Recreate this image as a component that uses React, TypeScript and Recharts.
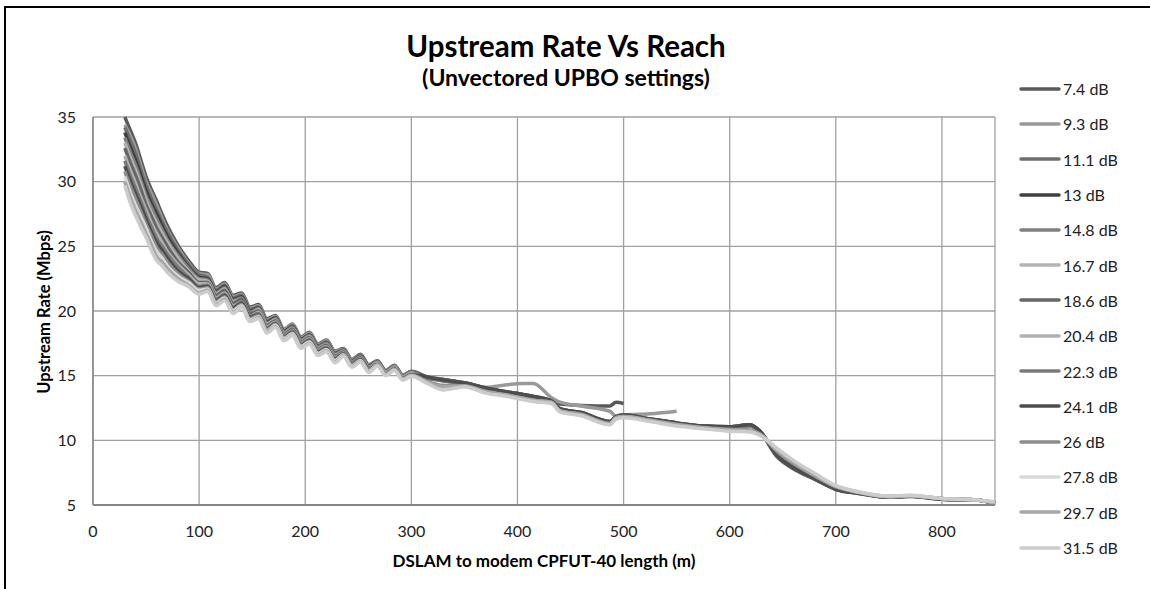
import { LineChart, Line, XAxis, YAxis, CartesianGrid, Legend } from 'recharts';

// distance from DSLAM (m)
const distance = [
  30, 35, 40, 45, 50, 55, 60, 65, 70, 80, 90, 100,
  108, 116, 124, 132, 140, 148, 156, 164, 172, 180, 188, 196, 204, 212, 220, 228, 236, 244, 252, 260, 268, 276, 284, 292, 300,
  315, 330, 350, 370, 390, 405, 415, 432, 440, 460, 487, 493, 500, 525, 550, 575, 600, 619, 628, 645, 660, 680, 700, 720, 750, 770, 800, 830, 850,
];

// upstream rate (Mbps) per UPBO setting
const rate7_4 = [
  35.0, 34.0, 33.0, 31.7, 30.4, 29.4, 28.5, 27.5, 26.6, 25.1, 23.9, 23.0,
  22.9, 21.8, 22.2, 21.2, 21.4, 20.3, 20.5, 19.4, 19.65, 18.6, 19.0, 18.0, 18.35, 17.45, 17.75, 16.9, 17.1, 16.25, 16.65, 15.85, 16.15, 15.4, 15.8, 15.05, 15.35,
  14.9, 14.7, 14.45, 14.05, 13.75, 13.55, 13.4, 13.0, 12.8, 12.7, 12.65, 12.95, 12.85,
];
const rate9_3 = [
  34.4, 33.6, 32.6, 31.3, 30.0, 29.1, 28.2, 27.2, 26.3, 24.9, 23.7, 22.9,
  22.8, 21.7, 22.1, 21.1, 21.3, 20.2, 20.4, 19.3, 19.6, 18.55, 18.95, 17.95, 18.3, 17.4, 17.7, 16.85, 17.05, 16.2, 16.6, 15.8, 16.1, 15.35, 15.75, 15.0, 15.3,
  14.55, 14.2, 14.25, 14.1, 14.3, 14.4, 14.4, 13.3, 12.95, 12.65, 12.25, 11.85, 11.95, 12.05, 12.25,
];
const rate11_1 = [
  34.2, 33.2, 32.2, 30.9, 29.7, 28.7, 27.8, 26.9, 26.1, 24.7, 23.6, 22.8,
  22.6, 21.6, 22.0, 21.0, 21.2, 20.1, 20.3, 19.2, 19.5, 18.45, 18.85, 17.85, 18.2, 17.3, 17.6, 16.75, 17.0, 16.15, 16.55, 15.75, 16.1, 15.35, 15.75, 15.0, 15.3,
  14.9, 14.7, 14.45, 14.05, 13.75, 13.55, 13.4, 13.05, 12.45, 12.15, 11.45, 11.8, 11.95, 11.65, 11.35, 11.1, 11.05, 11.2, 10.75, 8.8, 7.9, 7.05, 6.25, 5.95, 5.6, 5.7, 5.45, 5.4, 5.15,
];
const rate13 = [
  33.8, 32.7, 31.7, 30.5, 29.3, 28.3, 27.5, 26.6, 25.8, 24.5, 23.4, 22.6,
  22.5, 21.5, 21.9, 20.9, 21.1, 20.0, 20.25, 19.15, 19.45, 18.4, 18.8, 17.8, 18.15, 17.25, 17.55, 16.7, 16.95, 16.1, 16.5, 15.7, 16.05, 15.3, 15.7, 14.95, 15.25,
  14.85, 14.65, 14.4, 14.0, 13.7, 13.5, 13.35, 13.0, 12.4, 12.1, 11.4, 11.8, 11.9, 11.6, 11.3, 11.1, 11.0, 11.15, 10.7, 8.7, 7.8, 7.0, 6.2, 5.9, 5.6, 5.65, 5.45, 5.4, 5.15,
];
const rate14_8 = [
  33.4, 32.3, 31.3, 30.1, 28.9, 28.0, 27.1, 26.3, 25.5, 24.3, 23.3, 22.5,
  22.4, 21.4, 21.8, 20.8, 21.0, 19.9, 20.2, 19.05, 19.4, 18.35, 18.75, 17.75, 18.1, 17.2, 17.5, 16.65, 16.9, 16.05, 16.45, 15.65, 16.05, 15.3, 15.7, 14.95, 15.25,
  14.8, 14.6, 14.35, 14.0, 13.65, 13.45, 13.3, 13.0, 12.4, 12.1, 11.4, 11.75, 11.9, 11.6, 11.3, 11.05, 11.0, 11.1, 10.7, 8.9, 8.0, 7.1, 6.3, 5.95, 5.6, 5.7, 5.45, 5.4, 5.15,
];
const rate16_7 = [
  33.0, 31.9, 30.9, 29.8, 28.6, 27.6, 26.8, 26.0, 25.3, 24.1, 23.1, 22.4,
  22.3, 21.3, 21.7, 20.7, 20.9, 19.8, 20.1, 19.0, 19.3, 18.25, 18.65, 17.65, 18.0, 17.1, 17.4, 16.55, 16.9, 16.05, 16.45, 15.65, 16.0, 15.25, 15.65, 14.9, 15.2,
  14.55, 14.2, 14.2, 13.75, 13.5, 13.25, 13.1, 12.95, 12.3, 12.0, 11.3, 11.75, 11.85, 11.55, 11.2, 10.95, 10.8, 10.75, 10.5, 9.2, 8.3, 7.3, 6.45, 6.0, 5.65, 5.7, 5.5, 5.4, 5.2,
];
const rate18_6 = [
  32.6, 31.5, 30.5, 29.4, 28.2, 27.3, 26.4, 25.7, 25.0, 23.8, 23.0, 22.2,
  22.2, 21.2, 21.6, 20.6, 20.9, 19.8, 20.0, 18.9, 19.25, 18.2, 18.6, 17.6, 17.95, 17.05, 17.35, 16.5, 16.85, 16.0, 16.4, 15.6, 15.95, 15.2, 15.6, 14.85, 15.15,
  14.85, 14.7, 14.4, 14.05, 13.7, 13.5, 13.35, 13.05, 12.45, 12.15, 11.45, 11.8, 11.95, 11.65, 11.35, 11.1, 11.05, 11.2, 10.75, 8.75, 7.85, 7.0, 6.25, 5.95, 5.6, 5.7, 5.45, 5.4, 5.15,
];
const rate20_4 = [
  32.0, 30.9, 29.9, 28.8, 27.8, 26.8, 26.0, 25.3, 24.6, 23.6, 22.8, 22.1,
  22.1, 21.0, 21.4, 20.4, 20.7, 19.6, 19.9, 18.8, 19.15, 18.1, 18.5, 17.5, 17.85, 16.95, 17.25, 16.4, 16.75, 15.9, 16.3, 15.5, 15.95, 15.2, 15.6, 14.85, 15.15,
  14.5, 14.15, 14.2, 13.7, 13.45, 13.2, 13.05, 12.9, 12.25, 11.95, 11.25, 11.7, 11.8, 11.5, 11.2, 10.95, 10.75, 10.7, 10.45, 9.25, 8.35, 7.35, 6.45, 6.0, 5.65, 5.7, 5.5, 5.4, 5.2,
];
const rate22_3 = [
  31.6, 30.5, 29.5, 28.5, 27.4, 26.5, 25.6, 25.0, 24.4, 23.4, 22.6, 21.9,
  22.0, 20.9, 21.3, 20.3, 20.7, 19.6, 19.8, 18.7, 19.1, 18.05, 18.45, 17.45, 17.8, 16.9, 17.2, 16.35, 16.7, 15.85, 16.25, 15.45, 15.9, 15.15, 15.55, 14.8, 15.1,
  14.8, 14.6, 14.35, 14.0, 13.7, 13.5, 13.35, 13.0, 12.4, 12.1, 11.4, 11.8, 11.9, 11.6, 11.3, 11.05, 11.0, 11.15, 10.7, 8.85, 7.95, 7.05, 6.3, 5.95, 5.6, 5.7, 5.45, 5.4, 5.15,
];
const rate24_1 = [
  31.2, 30.1, 29.1, 28.1, 27.1, 26.1, 25.3, 24.7, 24.1, 23.1, 22.5, 21.8,
  21.9, 20.8, 21.2, 20.2, 20.6, 19.5, 19.7, 18.6, 19.0, 17.95, 18.35, 17.35, 17.7, 16.8, 17.1, 16.25, 16.7, 15.85, 16.25, 15.45, 15.85, 15.1, 15.5, 14.75, 15.05,
  14.9, 14.65, 14.45, 14.05, 13.75, 13.55, 13.4, 13.05, 12.45, 12.15, 11.45, 11.85, 11.95, 11.65, 11.35, 11.1, 11.05, 11.2, 10.75, 8.8, 7.9, 7.05, 6.25, 5.95, 5.6, 5.7, 5.45, 5.4, 5.15,
];
const rate26 = [
  30.8, 29.7, 28.7, 27.7, 26.7, 25.8, 24.9, 24.4, 23.8, 22.9, 22.3, 21.7,
  21.8, 20.7, 21.1, 20.1, 20.5, 19.4, 19.65, 18.55, 18.95, 17.9, 18.3, 17.3, 17.65, 16.75, 17.05, 16.2, 16.65, 15.8, 16.2, 15.4, 15.85, 15.1, 15.5, 14.75, 15.05,
  14.55, 14.25, 14.2, 13.8, 13.5, 13.25, 13.1, 12.95, 12.3, 12.0, 11.3, 11.75, 11.85, 11.55, 11.25, 11.0, 10.85, 10.8, 10.5, 9.1, 8.2, 7.25, 6.4, 6.0, 5.65, 5.7, 5.5, 5.4, 5.2,
];
const rate27_8 = [
  30.4, 29.2, 28.2, 27.3, 26.4, 25.4, 24.6, 24.1, 23.5, 22.7, 22.2, 21.6,
  21.7, 20.6, 21.0, 20.0, 20.4, 19.3, 19.55, 18.45, 18.9, 17.85, 18.25, 17.25, 17.6, 16.7, 17.0, 16.15, 16.6, 15.75, 16.15, 15.35, 15.8, 15.05, 15.45, 14.7, 15.0,
  14.45, 13.95, 14.15, 13.7, 13.45, 13.2, 13.05, 12.9, 12.25, 11.95, 11.25, 11.7, 11.8, 11.5, 11.15, 10.95, 10.75, 10.7, 10.45, 9.3, 8.4, 7.4, 6.5, 6.05, 5.65, 5.75, 5.5, 5.4, 5.2,
];
const rate29_7 = [
  30.0, 28.8, 27.8, 26.9, 26.0, 25.1, 24.2, 23.8, 23.3, 22.5, 22.0, 21.4,
  21.6, 20.5, 20.9, 19.9, 20.3, 19.2, 19.5, 18.4, 18.8, 17.75, 18.15, 17.15, 17.5, 16.6, 16.9, 16.05, 16.55, 15.7, 16.1, 15.3, 15.8, 15.05, 15.45, 14.7, 15.0,
  14.5, 14.15, 14.2, 13.75, 13.5, 13.25, 13.1, 12.95, 12.3, 12.0, 11.3, 11.75, 11.85, 11.55, 11.2, 10.95, 10.8, 10.75, 10.5, 9.2, 8.3, 7.3, 6.45, 6.0, 5.65, 5.7, 5.5, 5.4, 5.2,
];
const rate31_5 = [
  29.7, 28.4, 27.4, 26.5, 25.7, 24.7, 23.9, 23.5, 23.0, 22.3, 21.9, 21.3,
  21.5, 20.4, 20.8, 19.8, 20.3, 19.2, 19.4, 18.3, 18.75, 17.7, 18.1, 17.1, 17.45, 16.55, 16.85, 16.0, 16.5, 15.65, 16.05, 15.25, 15.75, 15.0, 15.4, 14.65, 14.95,
  14.4, 13.9, 14.15, 13.65, 13.4, 13.15, 13.0, 12.85, 12.2, 11.9, 11.2, 11.65, 11.75, 11.45, 11.1, 10.9, 10.7, 10.65, 10.4, 9.35, 8.45, 7.45, 6.5, 6.05, 5.7, 5.75, 5.5, 5.4, 5.25,
];

const seriesNames = [
  '7.4 dB', '9.3 dB', '11.1 dB', '13 dB', '14.8 dB', '16.7 dB', '18.6 dB',
  '20.4 dB', '22.3 dB', '24.1 dB', '26 dB', '27.8 dB', '29.7 dB', '31.5 dB',
];
const seriesColors = [
  '#595959', '#999999', '#6e6e6e', '#404040', '#808080', '#b3b3b3', '#666666',
  '#b0b0b0', '#7a7a7a', '#4d4d4d', '#8c8c8c', '#d9d9d9', '#a6a6a6', '#cccccc',
];
const seriesValues = [
  rate7_4, rate9_3, rate11_1, rate13, rate14_8, rate16_7, rate18_6,
  rate20_4, rate22_3, rate24_1, rate26, rate27_8, rate29_7, rate31_5,
];

const xTicks = [0, 100, 200, 300, 400, 500, 600, 700, 800];
const yTicks = [5, 10, 15, 20, 25, 30, 35];

const chartData = distance.map((d, k) => {
    const row: Record<string, number | null> = { distance: d };
    seriesValues.forEach((arr, i) => {
        row[`s${i}`] = arr[k] ?? null;
    });
    return row;
});

const FONT = 'Lato, "Open Sans", sans-serif';

function LegendBox() {
    return (
        <div style={{ display: 'flex', flexDirection: 'column', fontFamily: FONT }}>
            {seriesNames.map((name, i) => (
                <div key={name} style={{ height: 35.3, display: 'flex', alignItems: 'center' }}>
                    <svg width={42} height={8}>
                        <line x1={2} y1={4} x2={40} y2={4} stroke={seriesColors[i]} strokeWidth={3.5} strokeLinecap="round" />
                    </svg>
                    <span style={{ marginLeft: 2, fontSize: 16, color: '#222' }}>{name}</span>
                </div>
            ))}
        </div>
    );
}

export default function App() {
    return (
        <div style={{ position: 'absolute', left: 0, top: 0, width: 1150, height: 589, overflow: 'hidden', background: '#fff' }}>
            {/* outer frame (cropped on right and bottom) */}
            <div style={{ position: 'absolute', left: 4, top: 6, width: 1300, height: 700, borderLeft: '2px solid #000', borderTop: '2px solid #000' }} />

            <div style={{ position: 'absolute', left: 0, top: 29, width: 1132, textAlign: 'center', fontFamily: FONT, fontWeight: 700, fontSize: 29.5, lineHeight: '34px', color: '#000' }}>
                Upstream Rate Vs Reach
            </div>
            <div style={{ position: 'absolute', left: 0, top: 63, width: 1132, textAlign: 'center', fontFamily: FONT, fontWeight: 700, fontSize: 23, lineHeight: '28px', color: '#000' }}>
                (Unvectored UPBO settings)
            </div>

            <div style={{ position: 'absolute', left: 0, top: 0 }}>
                <LineChart width={1150} height={589} data={chartData} margin={{ top: 117, right: 155, bottom: 54, left: 0 }}>
                    <CartesianGrid stroke="#a0a0a0" strokeWidth={1.3} />
                    <XAxis
                        dataKey="distance"
                        type="number"
                        domain={[0, 850]}
                        ticks={xTicks}
                        height={30}
                        tickLine={false}
                        tickSize={0}
                        tickMargin={21}
                        axisLine={{ stroke: '#868686', strokeWidth: 2 }}
                        tick={{ fill: '#222', fontSize: 16, fontFamily: FONT }}
                    />
                    <YAxis
                        type="number"
                        domain={[5, 35]}
                        ticks={yTicks}
                        width={93}
                        tickLine={false}
                        tickSize={0}
                        tickMargin={17}
                        axisLine={{ stroke: '#868686', strokeWidth: 1.5 }}
                        tick={{ fill: '#222', fontSize: 16, fontFamily: FONT }}
                    />
                    <Legend
                        layout="vertical"
                        align="center"
                        verticalAlign="middle"
                        wrapperStyle={{ left: 1019, top: 71, width: 131 }}
                        content={() => <LegendBox />}
                    />
                    {seriesNames.map((name, i) => (
                        <Line
                            key={name}
                            type="monotone"
                            dataKey={`s${i}`}
                            name={name}
                            stroke={seriesColors[i]}
                            strokeWidth={3.5}
                            dot={false}
                            activeDot={false}
                            isAnimationActive={false}
                        />
                    ))}
                </LineChart>
            </div>

            <div style={{ position: 'absolute', left: 44, top: 312, transform: 'translate(-50%, -50%) rotate(-90deg)', whiteSpace: 'nowrap', fontFamily: FONT, fontWeight: 700, fontSize: 16.5, color: '#000' }}>
                Upstream Rate (Mbps)
            </div>
            <div style={{ position: 'absolute', left: 544, top: 560, transform: 'translate(-50%, -50%)', whiteSpace: 'nowrap', fontFamily: FONT, fontWeight: 700, fontSize: 17, color: '#000' }}>
                DSLAM to modem CPFUT-40 length (m)
            </div>
        </div>
    );
}
